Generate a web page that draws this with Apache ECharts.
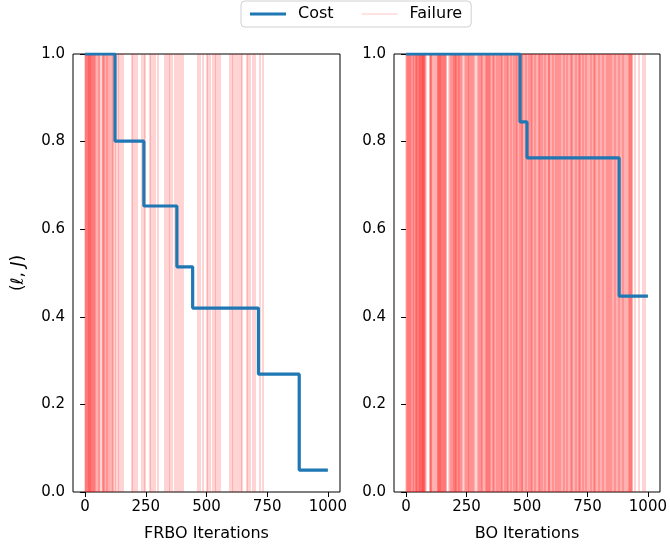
<!DOCTYPE html>
<html>
<head>
<meta charset="utf-8">
<script src="https://cdn.jsdelivr.net/npm/echarts@6/dist/echarts.min.js"></script>
<style>
  html, body { margin: 0; padding: 0; background: #fff; }
  #chart { width: 670px; height: 547px; }
</style>
</head>
<body>
<div id="chart"></div>
<script>
// cost step curves (x = iteration where the value starts, y = cost)
const frboCostX = [0, 123, 242, 378, 443, 714, 882, 1000]
const frboCostY = [1.0, 0.801, 0.653, 0.514, 0.420, 0.269, 0.050, 0.050]
const boCostX = [0, 471, 500, 881, 1000]
const boCostY = [1.0, 0.845, 0.763, 0.447, 0.447]

// iterations where a failure happened
const frboFailures = [
  0, 2, 3, 4, 7, 9, 10, 12, 14, 15, 17, 20, 21, 23, 25, 27, 28, 31, 33, 34, 36, 38, 40, 43, 46,
  50, 55, 58, 62, 68, 71, 74, 76, 78, 80, 84, 87, 90, 93, 97, 101, 104, 108, 112, 115,
  123, 128, 133, 140, 147, 156,
  193, 198, 205, 212,
  234, 240, 246,
  266, 272, 280, 287,
  300,
  328, 335, 343, 350, 357,
  369, 376, 384, 392, 402,
  464, 472, 484,
  500, 507, 513,
  525, 532, 540, 548, 554,
  595, 603, 610, 616, 625, 632, 640, 644,
  665, 672, 680, 690, 698,
  718, 730
]
const boFailures = [
  0, 2, 5, 7, 10, 14, 17, 19, 23, 26, 28, 31, 35, 38, 40, 42, 46, 49, 50, 53, 55, 57, 58, 62, 64,
  66, 67, 70, 73, 75, 77, 80, 96, 99, 101, 104, 108, 111, 113, 124, 127, 130, 132, 134, 136, 139,
  141, 143, 146, 149, 152, 154, 156, 158, 162, 165, 178, 182, 186, 188, 192, 195, 199, 201, 202, 204,
  206, 209, 212, 216, 219, 223, 226, 229, 240, 243, 247, 250, 254, 258, 261, 264, 268, 272, 275,
  279, 282, 292, 296, 300, 303, 307, 311, 314, 321, 325, 328, 332, 335, 339, 341, 343, 346,
  350, 353, 357, 361, 364, 368, 371, 375, 379, 382, 386, 390, 393, 397, 400, 404, 408, 411, 415,
  419, 422, 426, 429, 433, 437, 441, 444, 448, 452, 455, 459, 462, 466, 470, 473, 477, 480, 484,
  488, 491, 495, 499, 502, 506, 510, 514, 517, 521, 525, 528, 532, 536, 540, 543, 547, 551, 554,
  558, 562, 566, 569, 573, 577, 580, 584, 588, 592, 595, 599, 603, 607, 610, 614, 618, 622, 626,
  629, 633, 637, 641, 644, 648, 652, 656, 660, 663, 667, 671, 675, 679, 682, 686, 690, 694, 698,
  701, 705, 709, 713, 717, 720, 724, 728, 732, 736, 740, 743, 747, 751, 755, 759, 763, 767, 770,
  774, 778, 782, 786, 790, 794, 797, 801, 805, 809, 813, 817, 821, 825, 828, 832, 836, 840, 844,
  848, 852, 856, 860, 864, 868, 872, 876, 880, 884, 888, 892, 896, 900, 905, 910, 915, 920, 922,
  925, 928, 930, 935, 947, 962, 978, 988,
  3, 12, 21, 33, 44, 51, 60, 65, 69, 72, 79, 103, 117, 129, 138, 145, 150, 160, 184, 197,
  205, 214, 221, 232, 245, 256, 266, 277, 299, 309, 319, 330, 337, 348, 359, 373, 384, 395,
  406, 417, 431, 446, 458, 468, 479, 493, 508, 519, 534, 549, 563, 575, 590, 605, 620, 635,
  650, 665, 684, 700, 715, 730, 745, 762, 780, 795, 812, 830, 846, 862, 878, 894, 912, 926, 932
]

const xTicks = [0, 250, 500, 750, 1000]
const xNames = ['FRBO Iterations', 'BO Iterations']

const costColor = '#1f77b4'
const failColor = 'rgba(255, 0, 0, 0.19)'
const font = 'DejaVu Sans'

function zip (xs, ys) {
  return xs.map(function (x, i) { return [x, ys[i]] })
}

function makeXAxis (i) {
  return {
    type: 'value',
    gridIndex: i,
    min: -50,
    max: 1050,
    name: xNames[i],
    nameLocation: 'middle',
    nameGap: 34,
    nameTextStyle: { color: '#000', fontSize: 16, fontFamily: font },
    axisLine: { show: false },
    splitLine: { show: false },
    axisTick: { show: true, length: 5, customValues: xTicks, lineStyle: { color: '#000' } },
    axisLabel: {
      customValues: xTicks, color: '#000', fontSize: 15, fontFamily: font, margin: 8,
      formatter: function (v) { return String(v) }
    }
  }
}

function makeYAxis (i) {
  const axis = {
    type: 'value',
    gridIndex: i,
    min: 0,
    max: 1,
    interval: 0.2,
    axisLine: { show: false },
    splitLine: { show: false },
    axisTick: { show: true, length: 5, lineStyle: { color: '#000' } },
    axisLabel: {
      color: '#000', fontSize: 15, fontFamily: font, margin: 8,
      formatter: function (v) { return v.toFixed(1) }
    }
  }
  if (i === 0) {
    axis.name = '({i|ℓ}, {i|J})'
    axis.nameLocation = 'middle'
    axis.nameGap = 46
    axis.nameTextStyle = {
      color: '#000', fontSize: 17, fontFamily: font,
      rich: { i: { fontStyle: 'italic', fontSize: 17, fontFamily: font, color: '#000' } }
    }
  }
  return axis
}

function failSeries (i, list) {
  return {
    name: 'Failure',
    type: 'line',
    xAxisIndex: i,
    yAxisIndex: i,
    data: [],
    symbol: 'none',
    color: failColor,
    lineStyle: { color: failColor, width: 1.5 },
    z: 1,
    markLine: {
      silent: true,
      symbol: 'none',
      animation: false,
      label: { show: false },
      lineStyle: { color: failColor, width: 1.8, type: 'solid' },
      emphasis: { disabled: true },
      data: list.map(function (v) { return { xAxis: v } })
    }
  }
}

function costSeries (i, xs, ys) {
  return {
    name: 'Cost',
    type: 'line',
    xAxisIndex: i,
    yAxisIndex: i,
    step: 'end',
    symbol: 'none',
    color: costColor,
    lineStyle: { color: costColor, width: 3.2 },
    z: 5,
    data: zip(xs, ys)
  }
}

const chart = echarts.init(document.getElementById('chart'))
chart.setOption({
  animation: false,
  backgroundColor: '#fff',
  legend: {
    top: 1,
    left: 241,
    data: [
      { name: 'Cost', icon: 'path://M0,0H36V3.2H0Z', itemStyle: { color: costColor } },
      { name: 'Failure', icon: 'path://M0,0H36V1.2H0Z', itemStyle: { color: 'rgba(255, 0, 0, 0.22)' } }
    ],
    symbolKeepAspect: true,
    itemWidth: 36,
    itemHeight: 14,
    itemGap: 28,
    padding: [5, 9],
    borderColor: '#d0d0d0',
    borderWidth: 1,
    borderRadius: 4,
    textStyle: { color: '#000', fontSize: 16, fontFamily: font, padding: [0, 0, 0, 7] }
  },
  grid: [
    { left: 73, top: 54, width: 267, height: 438, show: true, borderColor: '#000', borderWidth: 1, backgroundColor: 'transparent' },
    { left: 394, top: 54, width: 267, height: 438, show: true, borderColor: '#000', borderWidth: 1, backgroundColor: 'transparent' }
  ],
  xAxis: [makeXAxis(0), makeXAxis(1)],
  yAxis: [makeYAxis(0), makeYAxis(1)],
  series: [
    failSeries(0, frboFailures),
    failSeries(1, boFailures),
    costSeries(0, frboCostX, frboCostY),
    costSeries(1, boCostX, boCostY)
  ]
})
</script>
</body>
</html>
